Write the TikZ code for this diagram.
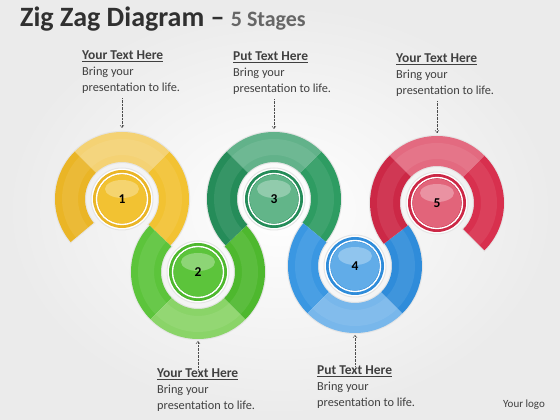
\documentclass[tikz,border=0pt]{standalone}
\usepackage{fontspec}
\setmainfont{Carlito}
\usepackage{tikz}
\usetikzlibrary{arrows.meta}
\usetikzlibrary{positioning}

\definecolor{yelA}{HTML}{F2C232}
\definecolor{yelB}{HTML}{F4D274}
\definecolor{yelD}{HTML}{EAB526}
\definecolor{grnA}{HTML}{5CC43B}
\definecolor{grnB}{HTML}{8AD468}
\definecolor{grnD}{HTML}{4EB82E}
\definecolor{dgrA}{HTML}{2E9C62}
\definecolor{dgrB}{HTML}{62B28A}
\definecolor{dgrD}{HTML}{258C59}
\definecolor{bluA}{HTML}{3A97E2}
\definecolor{bluB}{HTML}{78B7EB}
\definecolor{bluD}{HTML}{2F8CDA}
\definecolor{redA}{HTML}{D8304E}
\definecolor{redB}{HTML}{E36A80}
\definecolor{redD}{HTML}{CC2846}
\definecolor{txtgray}{HTML}{404040}
\definecolor{titlegray}{HTML}{303030}
\definecolor{subgray}{HTML}{666666}

% piece of a ring: centre, from angle, to angle, options
\newcommand{\band}[4]{%
  \path[#4,shift={(#1)}] (#2:67) arc[start angle=#2,end angle=#3,radius=67]
    -- (#3:37) arc[start angle=#3,end angle=#2,radius=37] -- cycle;}
% round hub in the middle of a ring
\newcommand{\hub}[3]{%
  \draw[black!10, line width=1, fill=white] (#1) circle[radius=31];
  \fill[#2] (#1) circle[radius=29];
  \draw[white, line width=1.4] (#1) circle[radius=25.5];
  \fill[#3] (#1) circle[radius=24.2];
  \fill[white, opacity=.3, shift={(#1)}] (0,10) ellipse[x radius=17, y radius=9];}

\begin{document}
\begin{tikzpicture}[x=1pt, y=1pt,
    hdr/.style={anchor=north west, align=left, inner sep=0pt, text=txtgray,
      font=\fontsize{12.3}{16}\selectfont},
    pointer/.style={densely dotted, black!70, -{Straight Barb[length=2.5pt,width=4pt]}},
    num/.style={circle, inner sep=0pt, minimum size=50pt, text=black,
      font=\bfseries\fontsize{13.5}{13.5}\selectfont}]
    \useasboundingbox (0,0) rectangle (560,420);
    \shade[inner color=white, outer color=gray!16] (0,0) rectangle (560,420);

    \coordinate (c1) at (122,221);
    \coordinate (c2) at (198,148);
    \coordinate (c3) at (274,221);
    \coordinate (c4) at (355,154);
    \coordinate (c5) at (437,217);

    % outer halos
    \band{c1}{-43.8}{220}{draw=black!10, line width=2.2}
    \band{c2}{136.2}{403.8}{draw=black!10, line width=2.2}
    \band{c3}{-39.6}{223.8}{draw=black!10, line width=2.2}
    \band{c4}{140.4}{397.5}{draw=black!10, line width=2.2}
    \band{c5}{-45}{217.5}{draw=black!10, line width=2.2}

    % ring 1
    \band{c1}{-43.8}{45}{fill=yelA}
    \band{c1}{45}{135}{fill=yelB}
    \band{c1}{135}{220}{fill=yelD}
    % ring 2
    \band{c2}{136.2}{225}{fill=grnA}
    \band{c2}{225}{315}{fill=grnB}
    \band{c2}{315}{403.8}{fill=grnD}
    % ring 3
    \band{c3}{-39.6}{45}{fill=dgrA}
    \band{c3}{45}{135}{fill=dgrB}
    \band{c3}{135}{223.8}{fill=dgrD}
    % ring 4
    \band{c4}{140.4}{225}{fill=bluA}
    \band{c4}{225}{315}{fill=bluB}
    \band{c4}{315}{397.5}{fill=bluD}
    % ring 5
    \band{c5}{-45}{45}{fill=redA}
    \band{c5}{45}{135}{fill=redB}
    \band{c5}{135}{217.5}{fill=redD}

    % soft gloss along the middle of each ring
    \draw[white, opacity=.08, line width=16, shift={(c1)}] (-43.8:52) arc[start angle=-43.8, end angle=220, radius=52];
    \draw[white, opacity=.08, line width=16, shift={(c2)}] (136.2:52) arc[start angle=136.2, end angle=403.8, radius=52];
    \draw[white, opacity=.08, line width=16, shift={(c3)}] (-39.6:52) arc[start angle=-39.6, end angle=223.8, radius=52];
    \draw[white, opacity=.08, line width=16, shift={(c4)}] (140.4:52) arc[start angle=140.4, end angle=397.5, radius=52];
    \draw[white, opacity=.08, line width=16, shift={(c5)}] (-45:52) arc[start angle=-45, end angle=217.5, radius=52];

    \hub{c1}{yelD}{yelA}
    \hub{c2}{grnD}{grnA}
    \hub{c3}{dgrD}{dgrA!75!white}
    \hub{c4}{bluD}{bluA!80!white}
    \hub{c5}{redD}{redA!75!white}

    \node[num] (n1) at (c1) {1};
    \node[num] (n2) at (c2) {2};
    \node[num] (n3) at (c3) {3};
    \node[num] (n4) at (c4) {4};
    \node[num] (n5) at (c5) {5};

    % text blocks
    \node[hdr] (t1) at (82,369) {{\fontsize{13.5}{16}\selectfont\textbf{\underline{Your Text Here}}}\\Bring your\\presentation to life.};
    \node[hdr] (t3) at (233,368) {{\fontsize{13.5}{16}\selectfont\textbf{\underline{Put Text Here}}}\\Bring your\\presentation to life.};
    \node[hdr] (t5) at (396,366) {{\fontsize{13.5}{16}\selectfont\textbf{\underline{Your Text Here}}}\\Bring your\\presentation to life.};
    \node[hdr] (t2) at (157,51) {{\fontsize{13.5}{16}\selectfont\textbf{\underline{Your Text Here}}}\\Bring your\\presentation to life.};
    \node[hdr] (t4) at (317,54) {{\fontsize{13.5}{16}\selectfont\textbf{\underline{Put Text Here}}}\\Bring your\\presentation to life.};

    \coordinate (e1) at (122,292);
    \coordinate (e3) at (274,291);
    \coordinate (e5) at (437,287);
    \coordinate (e2) at (198,79);
    \coordinate (e4) at (355,85);

    \draw[pointer, shorten <=4pt] (t1.south -| c1) -- (e1);
    \draw[pointer, shorten <=4pt] (t3.south -| c3) -- (e3);
    \draw[pointer, shorten <=4pt] (t5.south -| c5) -- (e5);
    \draw[pointer] (t2.north -| c2) -- (e2);
    \draw[pointer] (t4.north -| c4) -- (e4);

    \node[anchor=base west, inner sep=0pt, text=titlegray, font=\bfseries\fontsize{28}{28}\selectfont] (title) at (20,393)
      {Zig Zag Diagram – {\color{subgray}\fontsize{22}{22}\selectfont 5 Stages}};
    \node[anchor=base west, inner sep=0pt, text=black!75, font=\fontsize{11}{11}\selectfont] (logo) at (503,12) {Your logo};
\end{tikzpicture}
\end{document}
